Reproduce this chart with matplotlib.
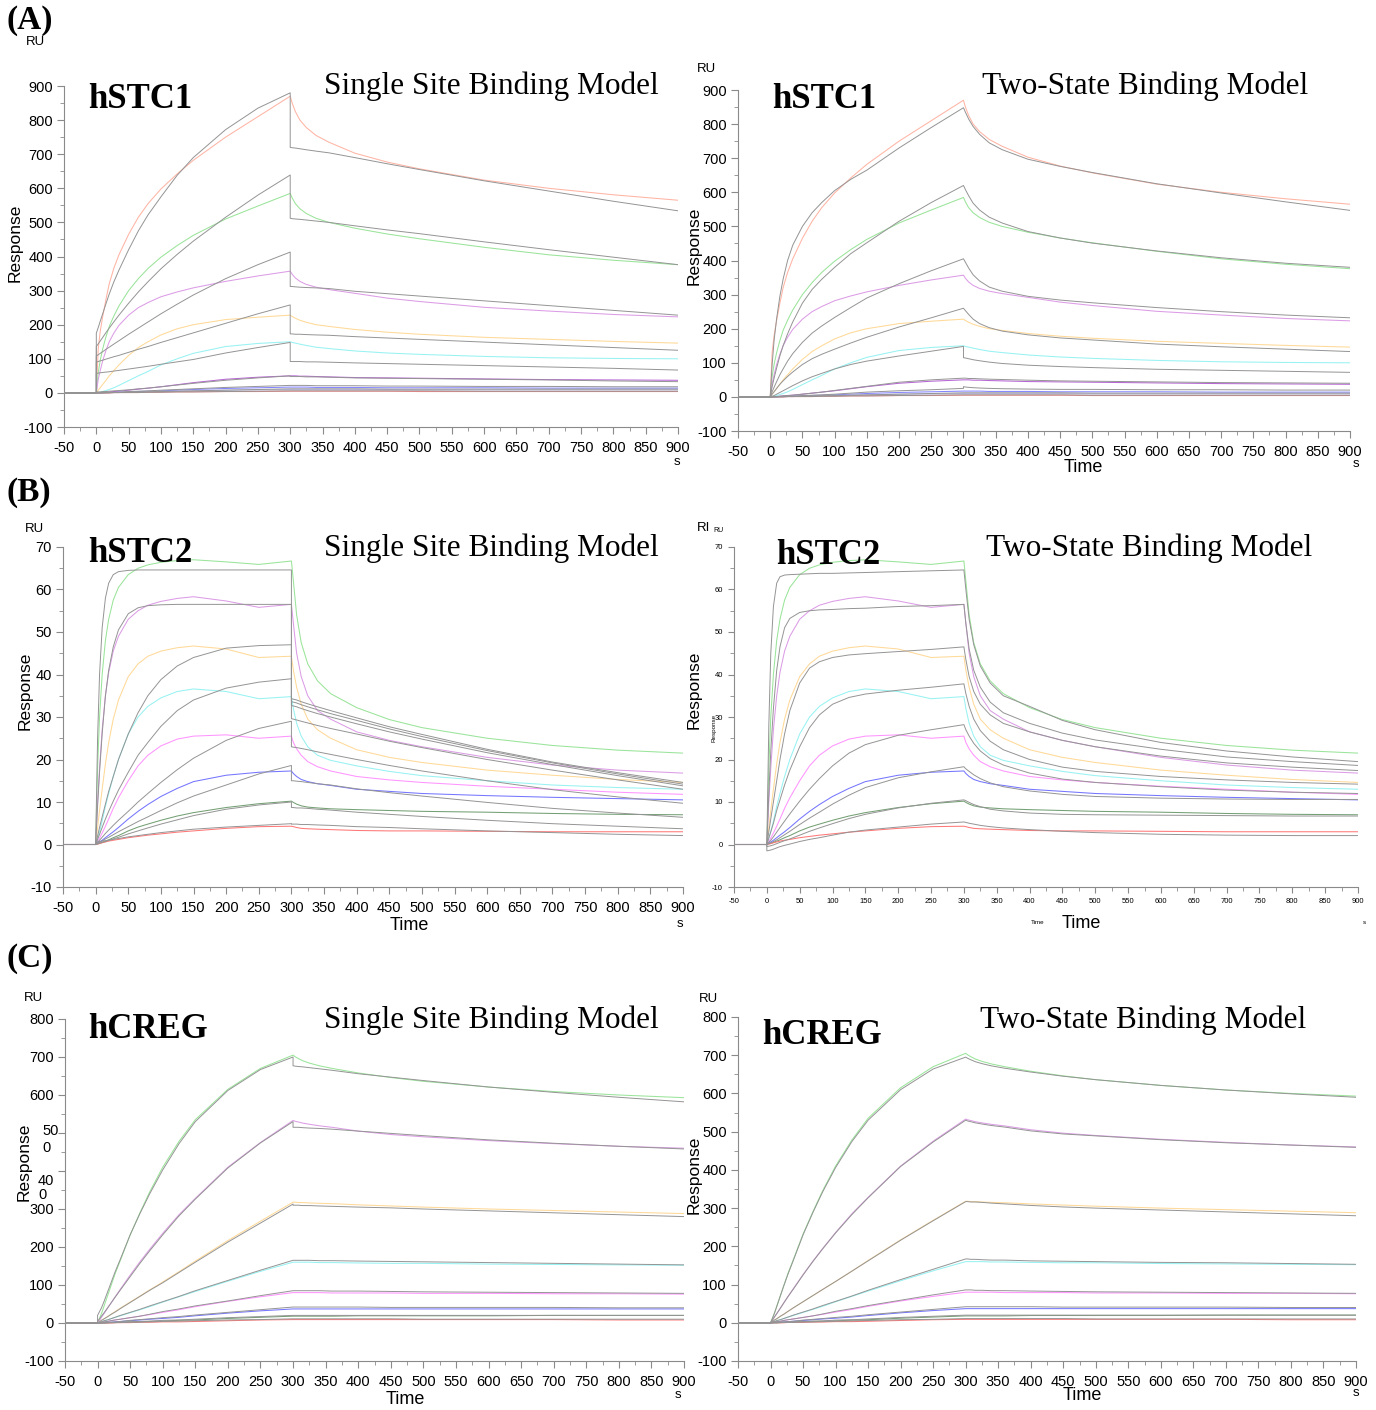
import matplotlib
matplotlib.use("Agg")
import matplotlib.pyplot as plt
from matplotlib import font_manager
from matplotlib.ticker import MultipleLocator

plt.rcParams['axes.unicode_minus'] = False
names_installed = {f.name for f in font_manager.fontManager.ttflist}
TICK_FONT = 'Liberation Sans Narrow' if 'Liberation Sans Narrow' in names_installed else 'Liberation Sans'
plt.rcParams['font.family'] = ['Liberation Sans', 'DejaVu Sans']

W, H = 1376, 1410

# sampling times (s)
TA = [0, 3, 6, 10, 15, 20, 27, 35, 50, 65, 80, 100, 125, 150, 200, 250, 300]
TD = [300, 303, 308, 315, 325, 340, 360, 400, 450, 500, 600, 700, 800, 900]

# ---------------- hSTC1 ----------------
stc1_colors = ['#ffb4a4', '#9ae49a', '#dc9ce6', '#ffd998', '#98f2f2',
               '#b866d6', '#8585ff', '#bcbce8', '#ff8080']
stc1_assoc = [
    [0, 130, 180, 225, 275, 320, 365, 405, 465, 515, 555, 598, 642, 682, 750, 810, 870],
    [0, 60, 95, 130, 165, 195, 225, 255, 300, 335, 365, 398, 432, 462, 510, 548, 585],
    [0, 40, 65, 95, 125, 150, 175, 198, 228, 250, 265, 282, 296, 308, 327, 343, 357],
    [0, 8, 15, 25, 37, 50, 65, 82, 110, 133, 150, 170, 188, 200, 215, 222, 228],
    [0, 1, 2, 4, 7, 10, 15, 22, 36, 50, 63, 82, 100, 116, 136, 145, 150],
    [0, 0, 1, 1, 2, 3, 4, 5, 8, 11, 14, 18, 24, 30, 40, 46, 50],
    [0, 0, 0, 0, 1, 1, 1, 2, 3, 4, 5, 6, 8, 10, 13, 15, 17],
    [0, 0, 0, 0, 0, 1, 1, 1, 2, 2, 3, 4, 5, 6, 8, 9, 10],
    [0, 0, 0, 0, 0, 0, 1, 1, 1, 1, 2, 2, 3, 3, 4, 4, 5],
]
stc1_diss = [
    [870, 850, 825, 800, 778, 755, 735, 703, 677, 657, 624, 600, 581, 565],
    [585, 572, 555, 540, 526, 512, 500, 483, 466, 452, 427, 405, 389, 376],
    [357, 348, 337, 327, 318, 310, 303, 292, 278, 268, 251, 240, 230, 223],
    [228, 224, 219, 213, 207, 200, 195, 186, 178, 172, 163, 157, 151, 146],
    [150, 148, 146, 143, 139, 134, 130, 123, 117, 113, 107, 103, 101, 100],
    [50, 50, 50, 49, 49, 48, 47, 45, 44, 43, 41, 39, 38, 37],
    [17, 17, 17, 17, 17, 16, 16, 16, 15, 15, 15, 14, 14, 14],
    [10, 10, 10, 10, 10, 10, 10, 10, 10, 9, 9, 9, 9, 9],
    [5, 5, 5, 5, 5, 5, 5, 5, 5, 4, 4, 4, 4, 4],
]
stc1_single_assoc = [
    [175, 192, 210, 233, 262, 290, 325, 360, 420, 475, 522, 575, 638, 690, 772, 835, 880],
    [136, 144, 152, 163, 177, 190, 208, 228, 263, 296, 326, 364, 406, 445, 515, 580, 639],
    [108, 112, 116, 121, 128, 134, 143, 153, 172, 190, 208, 232, 260, 287, 335, 376, 413],
    [90, 92, 94, 96, 99, 102, 106, 110, 119, 128, 136, 148, 162, 176, 204, 232, 258],
    [57, 58, 59, 60, 61, 62, 64, 66, 70, 74, 78, 84, 91, 98, 117, 133, 148],
    [3, 3, 3, 4, 4, 5, 6, 7, 9, 12, 14, 18, 23, 28, 37, 44, 50],
    [0, 0, 0, 1, 1, 1, 2, 2, 4, 5, 6, 8, 10, 12, 16, 19, 22],
    [0, 0, 0, 0, 1, 1, 1, 1, 2, 3, 3, 4, 5, 6, 8, 10, 12],
    [0, 0, 0, 0, 0, 0, 1, 1, 1, 1, 2, 2, 3, 3, 4, 5, 6],
]
stc1_single_diss = [
    [720, 719, 718, 716, 713, 709, 704, 690, 672, 655, 622, 592, 562, 534],
    [512, 511, 510, 509, 507, 504, 500, 490, 478, 467, 443, 420, 398, 376],
    [312, 312, 311, 310, 309, 308, 306, 298, 291, 284, 270, 256, 242, 228],
    [173, 173, 172, 172, 171, 170, 169, 165, 161, 157, 149, 141, 133, 125],
    [92, 92, 92, 92, 91, 91, 90, 88, 86, 84, 80, 76, 72, 67],
    [48, 48, 48, 48, 47, 47, 46, 44, 43, 42, 40, 38, 35, 33],
    [22, 22, 22, 22, 22, 21, 21, 21, 20, 20, 19, 19, 18, 18],
    [12, 12, 12, 12, 12, 12, 12, 12, 11, 11, 11, 11, 11, 11],
    [6, 6, 6, 6, 6, 6, 6, 6, 6, 6, 5, 5, 5, 5],
]
stc1_two_assoc = [
    [0, 95, 165, 230, 295, 345, 400, 445, 500, 540, 570, 605, 638, 665, 730, 790, 848],
    [0, 30, 55, 85, 120, 150, 185, 220, 275, 315, 345, 380, 420, 452, 515, 570, 620],
    [0, 15, 28, 45, 65, 82, 105, 127, 160, 187, 208, 233, 262, 290, 332, 370, 405],
    [0, 8, 15, 25, 37, 47, 60, 73, 95, 112, 125, 140, 158, 175, 205, 232, 260],
    [0, 2, 4, 8, 13, 18, 25, 33, 47, 59, 69, 82, 95, 105, 120, 134, 148],
    [0, 0, 1, 1, 2, 3, 4, 5, 8, 11, 14, 19, 25, 31, 43, 50, 55],
    [0, 0, 0, 1, 1, 1, 2, 2, 4, 5, 6, 8, 11, 14, 18, 21, 25],
    [0, 0, 0, 0, 1, 1, 1, 1, 2, 3, 3, 4, 5, 6, 8, 10, 12],
    [0, 0, 0, 0, 0, 0, 1, 1, 1, 1, 2, 2, 3, 3, 4, 5, 6],
]
stc1_two_diss = [
    [848, 835, 815, 793, 770, 745, 725, 697, 676, 658, 625, 598, 572, 547],
    [620, 608, 590, 568, 548, 527, 510, 485, 466, 451, 428, 408, 392, 380],
    [405, 395, 378, 358, 340, 322, 310, 295, 284, 276, 262, 250, 240, 232],
    [260, 253, 242, 228, 215, 203, 193, 182, 173, 167, 155, 147, 140, 133],
    [115, 114, 112, 109, 106, 102, 98, 93, 89, 86, 81, 78, 75, 72],
    [55, 55, 54, 54, 53, 52, 51, 49, 47, 46, 44, 42, 41, 40],
    [30, 29, 28, 27, 26, 25, 24, 23, 22, 22, 21, 21, 20, 20],
    [12, 12, 12, 12, 12, 12, 12, 12, 12, 11, 11, 11, 11, 11],
    [6, 6, 6, 6, 6, 6, 6, 6, 6, 5, 5, 5, 5, 5],
]

# ---------------- hSTC2 ----------------
stc2_colors = ['#9ae49a', '#dc9ce6', '#ffd998', '#98f2f2', '#ff94ff',
               '#7575ff', '#74a074', '#ff7878']
stc2_assoc = [
    [0, 18, 30, 40, 48, 53, 57.5, 60.5, 63.5, 65, 65.8, 66.4, 66.8, 67, 66.5, 65.9, 66.7],
    [0, 10, 18, 27, 35, 40.5, 45.5, 49, 53, 55, 56.3, 57.2, 57.9, 58.3, 57.3, 55.8, 56.5],
    [0, 4, 8, 13, 19, 24, 29.5, 34, 39.5, 42.5, 44.3, 45.5, 46.3, 46.7, 46, 44, 44.3],
    [0, 1.5, 3, 5.5, 9, 12, 16, 20, 26, 30, 32.5, 34.5, 36, 36.6, 36, 34.3, 34.8],
    [0, 0.7, 1.5, 2.7, 4.3, 6, 8.5, 11, 15, 18.5, 21, 23.2, 24.8, 25.5, 25.8, 25, 25.5],
    [0, 0.3, 0.6, 1, 1.6, 2.2, 3, 4, 6, 7.8, 9.4, 11.3, 13.2, 14.8, 16.3, 17, 17.3],
    [0, 0.2, 0.3, 0.5, 0.8, 1.1, 1.6, 2.1, 3.2, 4.1, 4.8, 5.7, 6.7, 7.5, 8.7, 9.6, 10.2],
    [0, 0.1, 0.2, 0.4, 0.6, 0.8, 1, 1.2, 1.6, 1.9, 2.2, 2.5, 2.9, 3.2, 3.8, 4.2, 4.3],
]
stc2_diss = [
    [66.7, 62, 54, 47.5, 42.5, 38.5, 35.5, 32.2, 29.4, 27.5, 25, 23.3, 22.2, 21.5],
    [56.5, 52, 45, 39.5, 35, 31.5, 29.5, 26.5, 24.5, 23, 20.5, 18.7, 17.5, 16.8],
    [44.3, 41, 37, 33, 29.5, 27, 25, 22.3, 20.5, 19.3, 17.5, 16.3, 15.3, 14.6],
    [34.8, 32, 28.5, 25.5, 23, 21, 19.8, 18.5, 17.2, 16.2, 15, 14, 13.4, 13],
    [25.5, 24, 22.5, 21, 19.5, 18.3, 17.3, 16, 15.2, 14.6, 13.7, 13, 12.3, 11.8],
    [17.3, 16.7, 16, 15.3, 14.8, 14.3, 13.9, 13, 12.5, 12, 11.5, 11.1, 10.8, 10.5],
    [10.2, 9.9, 9.5, 9.1, 8.8, 8.6, 8.4, 8.2, 8, 7.8, 7.6, 7.3, 7.1, 7],
    [4.3, 4.2, 4, 3.8, 3.7, 3.6, 3.5, 3.3, 3.2, 3.2, 3.1, 3, 3, 3],
]
stc2_single_assoc = [
    [0, 25, 40, 51, 58, 61.5, 63.5, 64.2, 64.5, 64.6, 64.6, 64.6, 64.6, 64.6, 64.6, 64.6, 64.6],
    [0, 9, 17, 26, 35, 41, 46.5, 50.5, 54.3, 55.7, 56.2, 56.4, 56.5, 56.5, 56.5, 56.5, 56.5],
    [0, 2, 4, 6.5, 9.5, 12.5, 16, 20, 26, 31, 35, 38.8, 42, 44, 46.2, 46.8, 47],
    [0, 1.2, 2.4, 4, 6, 7.8, 10.2, 12.8, 17, 21, 24, 27.8, 31.5, 34, 36.8, 38.2, 39],
    [0, 0.5, 1, 1.7, 2.6, 3.4, 4.5, 5.7, 7.8, 10, 12, 14.6, 17.6, 20.3, 24.5, 27.3, 29],
    [0, 0.3, 0.5, 0.8, 1.3, 1.7, 2.3, 3, 4.2, 5.4, 6.5, 8, 9.8, 11.4, 14, 16.6, 18.6],
    [0, 0.1, 0.3, 0.5, 0.7, 1, 1.3, 1.7, 2.5, 3.2, 3.9, 4.8, 5.8, 6.8, 8.3, 9.3, 10],
    [0.5, 0.6, 0.7, 0.8, 0.9, 1, 1.2, 1.4, 1.8, 2.1, 2.4, 2.8, 3.2, 3.6, 4.1, 4.5, 4.9],
]
stc2_single_diss = [
    [34.3, 34.2, 34, 33.6, 33.1, 32.4, 31.5, 29.8, 27.7, 25.9, 22.4, 19.4, 16.9, 14.6],
    [33.6, 33.5, 33.3, 32.9, 32.4, 31.7, 30.8, 29.2, 27.2, 25.4, 22.1, 19.2, 16.6, 14.2],
    [32.7, 32.6, 32.4, 32, 31.5, 30.8, 30, 28.4, 26.5, 24.8, 21.6, 18.8, 16.2, 13.8],
    [29.6, 29.5, 29.3, 29, 28.6, 28, 27.3, 26, 24.3, 22.8, 20, 17.5, 15.2, 13],
    [23, 22.9, 22.8, 22.6, 22.3, 21.8, 21.2, 20, 18.6, 17.3, 15, 12.9, 11.2, 9.7],
    [15, 15, 14.9, 14.8, 14.6, 14.3, 14, 13.1, 12.2, 11.4, 9.9, 8.5, 7.4, 6.4],
    [8.7, 8.7, 8.6, 8.6, 8.5, 8.3, 8.1, 7.6, 7.1, 6.6, 5.7, 4.9, 4.3, 3.7],
    [4.8, 4.8, 4.8, 4.7, 4.7, 4.6, 4.5, 4.2, 4, 3.7, 3.2, 2.8, 2.4, 2.1],
]
stc2_two_assoc = [
    [0, 28, 45, 56, 61.5, 63, 63.4, 63.5, 63.6, 63.7, 63.8, 63.8, 63.9, 64, 64.2, 64.4, 64.6],
    [0, 12, 22, 32, 41, 46.5, 51, 53.2, 54.6, 55, 55.2, 55.3, 55.5, 55.6, 56, 56.2, 56.5],
    [0, 3, 6, 10, 15, 20, 26, 31.5, 38, 41.5, 43, 44, 44.6, 44.9, 45.4, 45.9, 46.5],
    [0, 1.5, 3, 5, 8, 10.5, 14, 17.5, 23, 27.5, 30.5, 33, 34.6, 35.4, 36.3, 37, 37.8],
    [0, 0.5, 1, 1.8, 2.9, 4, 5.5, 7.2, 10.2, 13, 15.5, 18.5, 21.5, 23.5, 25.7, 27, 28.2],
    [0, 0.2, 0.4, 0.7, 1.1, 1.6, 2.3, 3.1, 4.7, 6.2, 7.6, 9.5, 11.6, 13.4, 15.7, 17.1, 18.3],
    [-0.5, -0.4, -0.3, -0.1, 0.2, 0.5, 0.9, 1.3, 2.2, 3.1, 3.9, 4.9, 6.1, 7.1, 8.6, 9.7, 10.5],
    [-1.5, -1.4, -1.3, -1.1, -0.8, -0.5, -0.2, 0.1, 0.7, 1.2, 1.6, 2.2, 2.9, 3.4, 4.1, 4.8, 5.3],
]
stc2_two_diss = [
    [64.6, 60, 53, 47, 42, 38, 35, 32.5, 29.2, 27, 24, 22, 20.6, 19.5],
    [56.5, 52, 46, 41, 37, 33.5, 31, 28.5, 26.2, 24.6, 22.4, 20.6, 19.5, 18.6],
    [46.5, 43.5, 39.5, 36, 33, 30.5, 28.5, 26.5, 24.5, 23, 20.8, 19.2, 18.2, 17.4],
    [37.8, 35.5, 32.5, 29.5, 26.8, 24.3, 22.3, 20, 18.2, 17.2, 16, 15.2, 14.6, 14.2],
    [28.2, 27, 25.5, 23.8, 22, 20.2, 18.7, 16.8, 15.4, 14.6, 13.6, 12.8, 12.3, 12],
    [18.3, 17.8, 17.2, 16.4, 15.5, 14.5, 13.6, 12.6, 11.8, 11.3, 10.9, 10.7, 10.6, 10.6],
    [10.5, 10.3, 9.9, 9.4, 8.9, 8.3, 7.9, 7.4, 7.1, 7, 6.9, 6.8, 6.7, 6.7],
    [5.3, 5.2, 5, 4.8, 4.5, 4.2, 3.9, 3.5, 3.1, 2.8, 2.4, 2.2, 2.1, 2.1],
]

# ---------------- hCREG ----------------
creg_colors = stc2_colors
creg_assoc = [
    [0, 12, 25, 45, 70, 95, 130, 165, 232, 290, 345, 410, 478, 535, 615, 670, 705],
    [0, 7, 15, 25, 38, 51, 69, 89, 126, 161, 194, 236, 285, 328, 410, 475, 533],
    [0, 3, 7, 11, 17, 22, 30, 39, 55, 71, 87, 108, 135, 163, 217, 268, 318],
    [0, 2, 3, 6, 8, 11, 15, 19, 27, 35, 43, 55, 69, 83, 110, 136, 160],
    [0, 1, 2, 3, 4, 6, 8, 10, 14, 18, 22, 28, 35, 43, 57, 69, 80],
    [0, 0, 1, 1, 2, 2, 3, 4, 6, 8, 10, 12, 15, 19, 26, 32, 37],
    [0, 0, 0, 0, 1, 1, 1, 2, 3, 4, 4, 5, 7, 8, 12, 15, 18],
    [0, 0, 0, 0, 0, 0, 1, 1, 1, 2, 2, 3, 3, 4, 6, 8, 9],
]
creg_diss = [
    [705, 701, 696, 690, 684, 677, 670, 658, 646, 636, 621, 609, 600, 593],
    [533, 531, 529, 526, 523, 519, 515, 505, 496, 490, 480, 472, 465, 460],
    [318, 318, 317, 317, 316, 315, 314, 311, 308, 305, 300, 296, 292, 288],
    [160, 160, 160, 160, 160, 159, 159, 158, 157, 157, 155, 154, 153, 152],
    [80, 80, 80, 80, 80, 80, 79, 79, 79, 78, 78, 77, 77, 76],
    [37, 37, 37, 37, 37, 37, 37, 37, 37, 37, 37, 37, 37, 37],
    [18, 18, 18, 18, 18, 18, 18, 19, 19, 19, 19, 20, 20, 20],
    [9, 9, 9, 9, 9, 9, 9, 9, 9, 9, 9, 9, 8, 8],
]
creg_single_assoc = [
    [20, 30, 40, 57, 80, 103, 135, 168, 232, 288, 340, 403, 472, 530, 612, 667, 700],
    [5, 11, 18, 27, 39, 51, 68, 87, 122, 157, 190, 232, 282, 326, 408, 474, 530],
    [0, 3, 7, 11, 16, 22, 29, 38, 54, 70, 86, 106, 133, 160, 213, 263, 313],
    [0, 2, 3, 6, 8, 11, 15, 20, 28, 36, 45, 56, 70, 85, 112, 139, 165],
    [0, 1, 2, 3, 4, 6, 8, 10, 14, 18, 23, 30, 37, 45, 58, 72, 85],
    [0, 0, 1, 1, 2, 2, 3, 4, 7, 9, 11, 14, 17, 21, 28, 35, 42],
    [0, 0, 0, 0, 1, 1, 1, 2, 3, 4, 5, 7, 8, 10, 14, 17, 20],
    [0, 0, 0, 0, 0, 1, 1, 1, 2, 2, 3, 4, 5, 6, 8, 9, 11],
]
creg_single_diss = [
    [677, 676, 675, 674, 672, 669, 665, 656, 647, 638, 621, 607, 594, 582],
    [515, 515, 515, 514, 513, 512, 510, 505, 499, 493, 482, 473, 465, 458],
    [310, 310, 310, 309, 309, 308, 307, 305, 303, 300, 295, 290, 285, 280],
    [165, 165, 165, 165, 165, 164, 164, 163, 162, 161, 159, 157, 155, 153],
    [85, 85, 85, 85, 85, 85, 84, 84, 83, 82, 81, 80, 79, 78],
    [42, 42, 42, 42, 42, 42, 42, 42, 41, 41, 41, 41, 40, 40],
    [20, 20, 20, 20, 20, 20, 20, 20, 20, 20, 20, 20, 20, 20],
    [11, 11, 11, 11, 11, 11, 11, 11, 11, 10, 10, 10, 10, 10],
]
creg_two_assoc = [
    [0, 12, 25, 45, 70, 95, 128, 163, 230, 288, 342, 406, 474, 530, 610, 664, 695],
    [0, 7, 15, 25, 38, 51, 69, 88, 125, 160, 193, 235, 283, 327, 409, 473, 530],
    [0, 3, 7, 11, 17, 22, 30, 39, 55, 71, 87, 108, 135, 162, 216, 267, 317],
    [0, 2, 3, 6, 8, 11, 15, 20, 28, 36, 45, 56, 70, 85, 113, 140, 167],
    [0, 1, 2, 3, 4, 6, 8, 10, 14, 18, 23, 30, 37, 45, 59, 73, 86],
    [0, 0, 1, 1, 2, 2, 3, 4, 7, 9, 11, 14, 17, 21, 28, 35, 42],
    [0, 0, 0, 0, 1, 1, 1, 2, 3, 4, 5, 7, 8, 10, 14, 17, 20],
    [0, 0, 0, 0, 0, 1, 1, 1, 2, 2, 3, 4, 5, 6, 8, 9, 11],
]
creg_two_diss = [
    [695, 692, 688, 683, 678, 672, 666, 656, 645, 636, 621, 609, 599, 590],
    [530, 528, 526, 523, 520, 516, 512, 502, 494, 489, 479, 471, 465, 459],
    [317, 317, 316, 316, 315, 313, 311, 307, 303, 300, 295, 290, 285, 280],
    [167, 167, 166, 166, 165, 164, 164, 162, 161, 160, 158, 157, 155, 153],
    [86, 86, 86, 85, 85, 84, 84, 83, 82, 81, 80, 79, 78, 77],
    [42, 42, 42, 42, 42, 42, 42, 42, 41, 41, 41, 41, 40, 40],
    [20, 20, 20, 20, 20, 20, 20, 20, 20, 20, 20, 20, 20, 20],
    [11, 11, 11, 11, 11, 11, 11, 11, 11, 10, 10, 10, 10, 10],
]

FIT_COLOR = '#949494'
AX_COLOR = '#8a8a8a'


def px(x, y):
    return x / W, 1 - y / H


def trace(assoc, diss):
    xs = [-50, 0] + TA + TD
    ys = [0, 0] + list(assoc) + list(diss)
    return xs, ys


def panel(rect, ylim, ymajor, yminor, colors, d_assoc, d_diss, f_assoc, f_diss,
          tick_size=10.5):
    l, t, r, b = rect
    ax = fig.add_axes([l / W, 1 - b / H, (r - l) / W, (b - t) / H])
    for c, a, d in zip(colors, d_assoc, d_diss):
        xs, ys = trace(a, d)
        ax.plot(xs, ys, color=c, lw=0.75, zorder=2)
    for a, d in zip(f_assoc, f_diss):
        xs, ys = trace(a, d)
        ax.plot(xs, ys, color=FIT_COLOR, lw=0.7, zorder=3)
    ax.set_xlim(-50, 900)
    ax.set_ylim(*ylim)
    ax.xaxis.set_major_locator(MultipleLocator(50))
    ax.xaxis.set_minor_locator(MultipleLocator(25))
    ax.yaxis.set_major_locator(MultipleLocator(ymajor))
    ax.yaxis.set_minor_locator(MultipleLocator(yminor))
    for s in ['top', 'right']:
        ax.spines[s].set_visible(False)
    for s in ['left', 'bottom']:
        ax.spines[s].set_color(AX_COLOR)
        ax.spines[s].set_linewidth(0.8)
    ax.tick_params(which='major', length=5, width=0.8, color=AX_COLOR,
                   labelsize=tick_size)
    ax.tick_params(axis='y', which='major', pad=3)
    ax.tick_params(axis='x', which='major', pad=5)
    ax.tick_params(which='minor', length=3, width=0.6, color=AX_COLOR)
    for lab in ax.get_xticklabels() + ax.get_yticklabels():
        lab.set_family(TICK_FONT)
    ax.patch.set_alpha(0)
    return ax


fig = plt.figure(figsize=(W / 100, H / 100), dpi=100)

# (A) hSTC1
panel((64, 86, 678, 427), (-100, 900), 100, 50, stc1_colors,
      stc1_assoc, stc1_diss, stc1_single_assoc, stc1_single_diss)
panel((738, 90, 1350, 431), (-100, 900), 100, 50, stc1_colors,
      stc1_assoc, stc1_diss, stc1_two_assoc, stc1_two_diss)

# (B) hSTC2
panel((63, 547, 683, 887), (-10, 70), 10, 5, stc2_colors,
      stc2_assoc, stc2_diss, stc2_single_assoc, stc2_single_diss)
axb = panel((734, 547, 1358, 887), (-10, 70), 10, 5, stc2_colors,
            stc2_assoc, stc2_diss, stc2_two_assoc, stc2_two_diss, tick_size=5.5)
axb.tick_params(which='major', length=4, pad=4)

# (C) hCREG
axc = panel((65, 1019, 684, 1361), (-100, 800), 100, 50, creg_colors,
            creg_assoc, creg_diss, creg_single_assoc, creg_single_diss)
axc.set_yticks([-100, 0, 100, 200, 300, 400, 500, 600, 700, 800])
axc.set_yticklabels(['-100', '0', '100', '200', '300', '', '', '600', '700', '800'],
                    family=TICK_FONT)
panel((738, 1017, 1356, 1361), (-100, 800), 100, 50, creg_colors,
      creg_assoc, creg_diss, creg_two_assoc, creg_two_diss)

# broken tick labels on the hCREG single-site panel
for s, x, y in [('50', 42, 1131), ('0', 42, 1148), ('40', 38, 1181), ('0', 38, 1195)]:
    fig.text(*px(x, y), s, fontsize=10.5, family=TICK_FONT, ha='left', va='center')

# panel letters
for s, y in [('(A)', 20), ('(B)', 493), ('(C)', 958)]:
    fig.text(*px(6, y), s, fontsize=24, fontweight='bold',
             family='Liberation Serif', ha='left', va='center')

# protein names and model titles
names = [('hSTC1', 88, 100), ('hSTC1', 772, 99), ('hSTC2', 88, 553),
         ('hSTC2', 776, 556), ('hCREG', 88, 1029), ('hCREG', 762, 1035)]
for s, x, y in names:
    fig.text(*px(x, y), s, fontsize=25, fontweight='bold',
             family='Liberation Serif', ha='left', va='center')

models = [('Single Site Binding Model', 491, 86), ('Two-State Binding Model', 1145, 86),
          ('Single Site Binding Model', 491, 548), ('Two-State Binding Model', 1149, 548),
          ('Single Site Binding Model', 491, 1020), ('Two-State Binding Model', 1143, 1020)]
for s, x, y in models:
    fig.text(*px(x, y), s, fontsize=22.5, family='Liberation Serif',
             ha='center', va='center')

# axis annotations
for s, x, y, fs in [('RU', 35, 42, 9.5), ('RU', 706, 69, 9.5), ('RU', 34, 529, 9.5),
                    ('RI', 704, 528, 9.5), ('RU', 718, 530, 5),
                    ('RU', 33, 998, 9.5), ('RU', 708, 999, 9.5)]:
    fig.text(*px(x, y), s, fontsize=fs, ha='center', va='center')

for x, y in [(15, 243), (694, 246), (25, 691), (694, 690), (24, 1162), (694, 1175)]:
    fig.text(*px(x, y), 'Response', fontsize=12.5, rotation=90, ha='center', va='center')
fig.text(*px(714, 728), 'Response', fontsize=4.5, rotation=90, ha='center', va='center')

for x, y in [(1083, 467), (409, 925), (1081, 923), (405, 1399), (1082, 1396)]:
    fig.text(*px(x, y), 'Time', fontsize=13, ha='center', va='center')
fig.text(*px(1038, 922), 'Time', fontsize=4.5, ha='center', va='center')

for x, y, fs in [(677, 462, 9.5), (1356, 464, 9.5), (680, 924, 9.5),
                 (1364, 922, 4.5), (678, 1395, 9.5), (1356, 1393, 9.5)]:
    fig.text(*px(x, y), 's', fontsize=fs, ha='center', va='center')

fig.savefig('out.png', dpi=100)
